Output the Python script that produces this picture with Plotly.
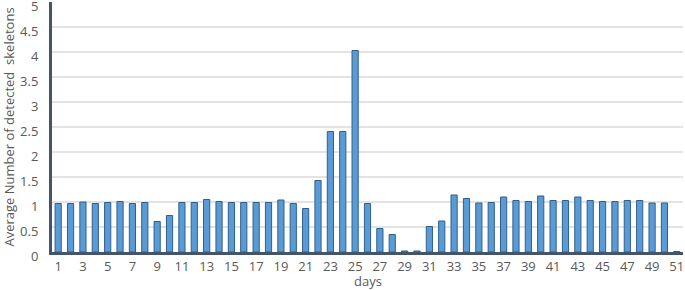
import plotly.graph_objects as go

days = list(range(1, 52))
avg_skeletons = [
    0.97, 0.97, 1.00, 0.97, 0.99, 1.01, 0.97, 0.99, 0.61, 0.73,
    0.99, 0.99, 1.05, 1.01, 0.99, 0.99, 0.99, 0.99, 1.04, 0.97,
    0.87, 1.43, 2.41, 2.41, 4.03, 0.97, 0.47, 0.35, 0.02, 0.02,
    0.51, 0.62, 1.14, 1.07, 0.98, 0.99, 1.10, 1.03, 1.01, 1.12,
    1.03, 1.03, 1.10, 1.03, 1.01, 1.01, 1.03, 1.03, 0.98, 0.98,
    0.01,
]
x_ticks = list(range(1, 52, 2))
y_ticks = [0, 0.5, 1, 1.5, 2, 2.5, 3, 3.5, 4, 4.5, 5]
y_ticktext = ["0", "0.5", "1", "1.5", "2", "2.5", "3", "3.5", "4", "4.5", "5"]

fig = go.Figure(go.Bar(
    x=days, y=avg_skeletons,
    width=0.5,
    marker=dict(color="#5b9bd5", line=dict(color="#2f5f8c", width=1)),
))

font_fam = "Open Sans, DejaVu Sans, sans-serif"
fig.update_layout(
    width=685, height=290,
    margin=dict(l=52, r=2, t=2, b=38),
    paper_bgcolor="white", plot_bgcolor="white",
    showlegend=False,
    font=dict(family=font_fam, color="#595959", size=13),
    xaxis=dict(
        range=[0.5, 51.5], tickmode="array", tickvals=x_ticks,
        ticktext=[str(v) for v in x_ticks],
        showline=True, linecolor="#44546a", linewidth=3,
        showgrid=False, zeroline=False, ticks="",
        ticklabeloverflow="allow",
        tickfont=dict(size=13, color="#595959"),
        automargin=False,
    ),
    yaxis=dict(
        range=[0, 5], tickmode="array", tickvals=y_ticks, ticktext=y_ticktext,
        showline=True, linecolor="#44546a", linewidth=3,
        showgrid=True, gridcolor="#e3e3e3", gridwidth=1.5, zeroline=False,
        ticks="", ticklabelstandoff=8, ticklabelshift=4,
        ticklabeloverflow="allow",
        tickfont=dict(size=13, color="#595959"),
        title=dict(text="Average Number of detected  skeletons",
                   font=dict(size=13, color="#595959"), standoff=4),
        automargin=False,
    ),
    annotations=[dict(
        text="days", xref="paper", yref="paper", x=0.5, y=0,
        xanchor="center", yanchor="middle", yshift=-29, showarrow=False,
        font=dict(size=13, color="#595959"),
    )],
)

fig.write_html("out.html", config={"displayModeBar": False},
               post_script="document.body.style.margin='0';")
